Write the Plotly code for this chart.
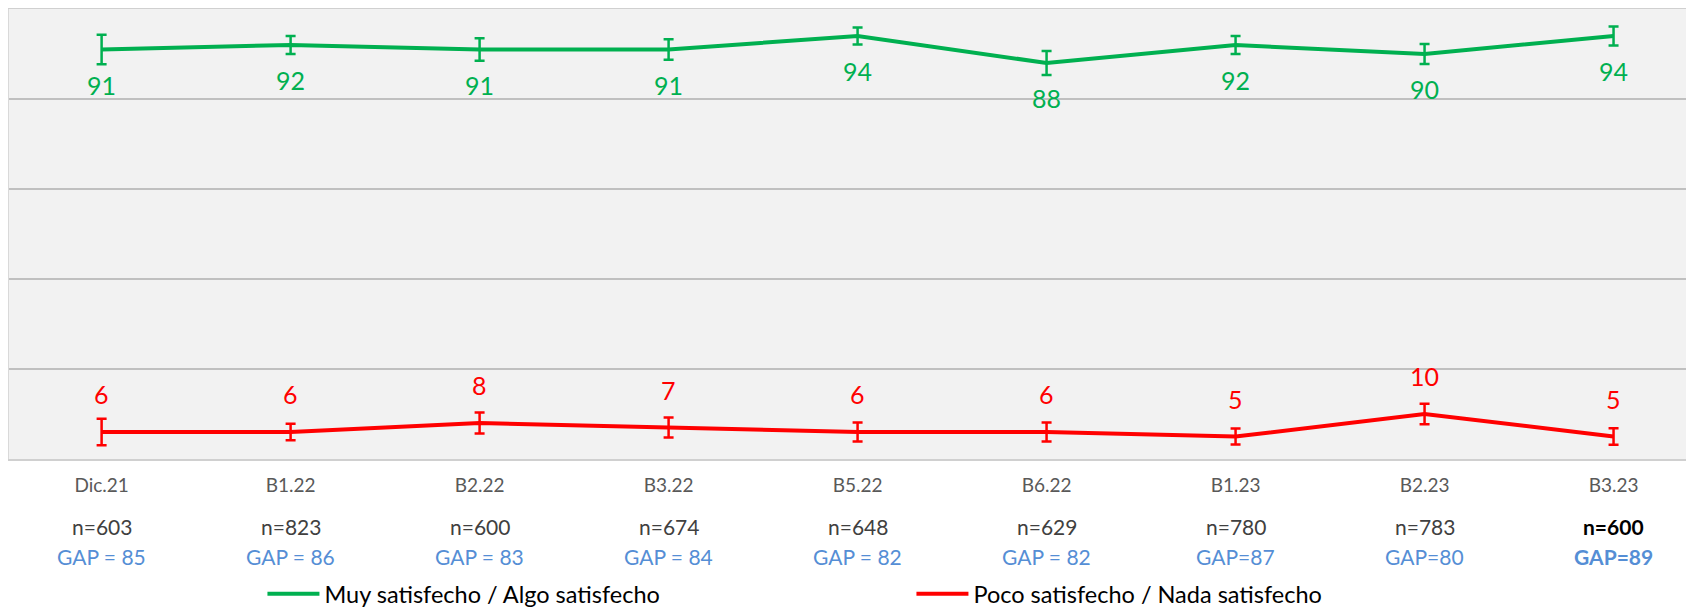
import plotly.graph_objects as go

categories = ["Dic.21", "B1.22", "B2.22", "B3.22", "B5.22", "B6.22", "B1.23", "B2.23", "B3.23"]
satisfied = [91, 92, 91, 91, 94, 88, 92, 90, 94]
satisfied_err = [3.3, 2.0, 2.5, 2.3, 1.9, 2.65, 2.0, 2.2, 2.1]
unsatisfied = [6, 6, 8, 7, 6, 6, 5, 10, 5]
unsatisfied_err = [2.95, 1.84, 2.36, 2.2, 2.1, 2.1, 1.8, 2.3, 1.84]
n_labels = ["n=603", "n=823", "n=600", "n=674", "n=648", "n=629", "n=780", "n=783", "n=600"]
gap_labels = ["GAP = 85", "GAP = 86", "GAP = 83", "GAP = 84", "GAP = 82", "GAP = 82", "GAP=87", "GAP=80", "GAP=89"]

GREEN = "#00B050"
RED = "#FF0000"
FONT = "Lato"

fig = go.Figure()
fig.add_trace(go.Scatter(
    x=categories, y=satisfied, mode="lines", name="Muy satisfecho / Algo satisfecho",
    line=dict(color=GREEN, width=4),
    error_y=dict(type="data", array=satisfied_err, color=GREEN, thickness=2.5, width=5),
))
fig.add_trace(go.Scatter(
    x=categories, y=unsatisfied, mode="lines", name="Poco satisfecho / Nada satisfecho",
    line=dict(color=RED, width=4),
    error_y=dict(type="data", array=unsatisfied_err, color=RED, thickness=2.5, width=5),
))

annotations = []
for c, v in zip(categories, satisfied):
    annotations.append(dict(x=c, y=v, text=str(round(v)), showarrow=False, yshift=-35,
                            font=dict(family=FONT, size=25, color=GREEN)))
for c, v in zip(categories, unsatisfied):
    annotations.append(dict(x=c, y=v, text=str(round(v)), showarrow=False, yshift=38,
                            font=dict(family=FONT, size=25, color=RED)))
last = len(categories) - 1
for i, (c, nl, gl) in enumerate(zip(categories, n_labels, gap_labels)):
    bold = i == last
    annotations.append(dict(x=c, xref="x", y=0, yref="paper", yanchor="middle",
                            text=f"<b>{nl}</b>" if bold else nl, showarrow=False, yshift=-67,
                            font=dict(family=FONT, size=21, color="#000000" if bold else "#404040")))
    annotations.append(dict(x=c, xref="x", y=0, yref="paper", yanchor="middle",
                            text=f"<b>{gl}</b>" if bold else gl, showarrow=False, yshift=-97,
                            font=dict(family=FONT, size=21, color="#558ED5")))

fig.update_layout(
    width=1694, height=608,
    margin=dict(l=1, r=0, t=1, b=156),
    paper_bgcolor="white", plot_bgcolor="#F2F2F2",
    font=dict(family=FONT),
    showlegend=True,
    legend=dict(orientation="h", x=0.1497, xanchor="left", y=-0.2993, yanchor="middle",
                font=dict(family=FONT, size=23.5, color="#000000"),
                itemwidth=52,
                entrywidth=582, entrywidthmode="pixels", bgcolor="rgba(0,0,0,0)"),
    annotations=annotations,
)
fig.update_xaxes(
    type="category", range=[-0.49, 8.468], showgrid=False,
    showline=True, linecolor="#D0D0D0", linewidth=2, mirror=True,
    ticks="", ticklabelstandoff=8,
    tickfont=dict(family=FONT, size=19, color="#595959"),
)
fig.update_yaxes(
    range=[0, 100], dtick=20, showgrid=True, gridcolor="#C0C0C0", gridwidth=1.5,
    zeroline=False, showticklabels=False, ticks="",
    showline=True, linecolor="#D9D9D9", linewidth=2,
)

fig.write_html("out.html")
